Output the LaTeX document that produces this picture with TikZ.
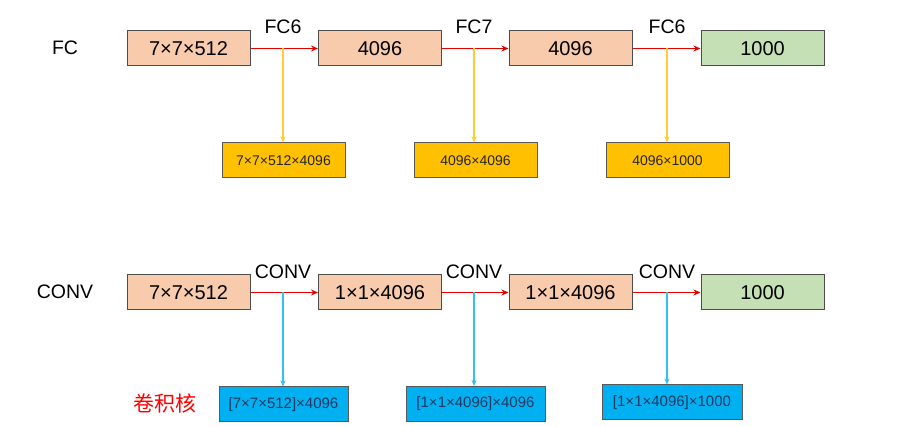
\documentclass[tikz,border=0pt]{standalone}
\usepackage{fontspec}
\setmainfont{Liberation Sans}
\newfontfamily\cjk{Noto Sans CJK SC}
\usetikzlibrary{arrows.meta}
\begin{document}
\begin{tikzpicture}
        [x=1pt, y=-1pt,
        layer/.style={draw=black!70, line width=1pt, fill=peach, minimum width=123pt, minimum height=35pt, inner sep=0pt, font=\fontsize{20}{22}\selectfont},
        output/.style={layer, fill=leaf},
        weight/.style={draw=black!65, line width=1pt, fill=amber, minimum width=123pt, minimum height=35pt, inner sep=0pt, text=black!85, font=\fontsize{14}{16}\selectfont},
        kernel/.style={weight, fill=sky, text=navy, font=\fontsize{15}{17}\selectfont},
        label/.style={font=\fontsize{19.5}{22}\selectfont},
        flow/.style={red!90!black, line width=1.5pt, -{Stealth[length=7pt,width=6pt]}},
        wflow/.style={amber!80, line width=1.5pt, -{Stealth[length=6pt,width=5pt]}},
        kflow/.style={sky!80, line width=1.5pt, -{Stealth[length=6pt,width=5pt]}}]

        \definecolor{peach}{HTML}{F8CBAD}
        \definecolor{leaf}{HTML}{C5E0B4}
        \definecolor{amber}{HTML}{FFC000}
        \definecolor{sky}{HTML}{00B0F0}
        \definecolor{navy}{HTML}{1F3864}

        \useasboundingbox (0,0) rectangle (919,427);

        % FC row
        \node[label] (fc) at (65,48) {FC};
        \node[layer] (f1) at (188.5,48.5) {7×7×512};
        \node[layer] (f2) at (380,48.5) {4096};
        \node[layer] (f3) at (570.5,48.5) {4096};
        \node[output] (f4) at (762.5,48.5) {1000};

        \node[weight] (w1) at (283.5,160.5) {7×7×512×4096};
        \node[weight] (w2) at (475.5,160.5) {4096×4096};
        \node[weight] (w3) at (667.5,160.5) {4096×1000};

        \node[label] (l1) at (283,27) {FC6};
        \node[label] (l2) at (474,27) {FC7};
        \node[label] (l3) at (667,27) {FC6};

        \coordinate (j1) at (283,48.5);
        \coordinate (j2) at (474,48.5);
        \coordinate (j3) at (667,48.5);

        % CONV row
        \node[label] (cv) at (65,292) {CONV};
        \node[layer] (c1) at (188.5,292.5) {7×7×512};
        \node[layer] (c2) at (380,292.5) {1×1×4096};
        \node[layer] (c3) at (570.5,292.5) {1×1×4096};
        \node[output] (c4) at (762.5,292.5) {1000};

        \node[kernel, minimum width=129pt] (k1) at (283.5,404.5) {[7×7×512]×4096};
        \node[kernel, minimum width=139pt] (k2) at (475.5,404) {[1×1×4096]×4096};
        \node[kernel, minimum width=140pt] (k3) at (672,402.5) {[1×1×4096]×1000};

        \node[label] (m1) at (283,272) {CONV};
        \node[label] (m2) at (474,272) {CONV};
        \node[label] (m3) at (667,272) {CONV};
        \node[label, text=red, font=\cjk\fontsize{21}{23}\selectfont] (jk) at (165,403) {卷积核};

        \coordinate (i1) at (283,292.5);
        \coordinate (i2) at (474,292.5);
        \coordinate (i3) at (667,292.5);

        % layer arrows
        \draw[flow] (f1) -- (f2);
        \draw[flow] (f2) -- (f3);
        \draw[flow] (f3) -- (f4);
        \draw[flow] (c1) -- (c2);
        \draw[flow] (c2) -- (c3);
        \draw[flow] (c3) -- (c4);

        % weight arrows
        \draw[wflow] (j1) -- (j1 |- w1.north);
        \draw[wflow] (j2) -- (j2 |- w2.north);
        \draw[wflow] (j3) -- (j3 |- w3.north);
        \draw[kflow] (i1) -- (i1 |- k1.north);
        \draw[kflow] (i2) -- (i2 |- k2.north);
        \draw[kflow] (i3) -- (i3 |- k3.north);

    \end{tikzpicture}
\end{document}
